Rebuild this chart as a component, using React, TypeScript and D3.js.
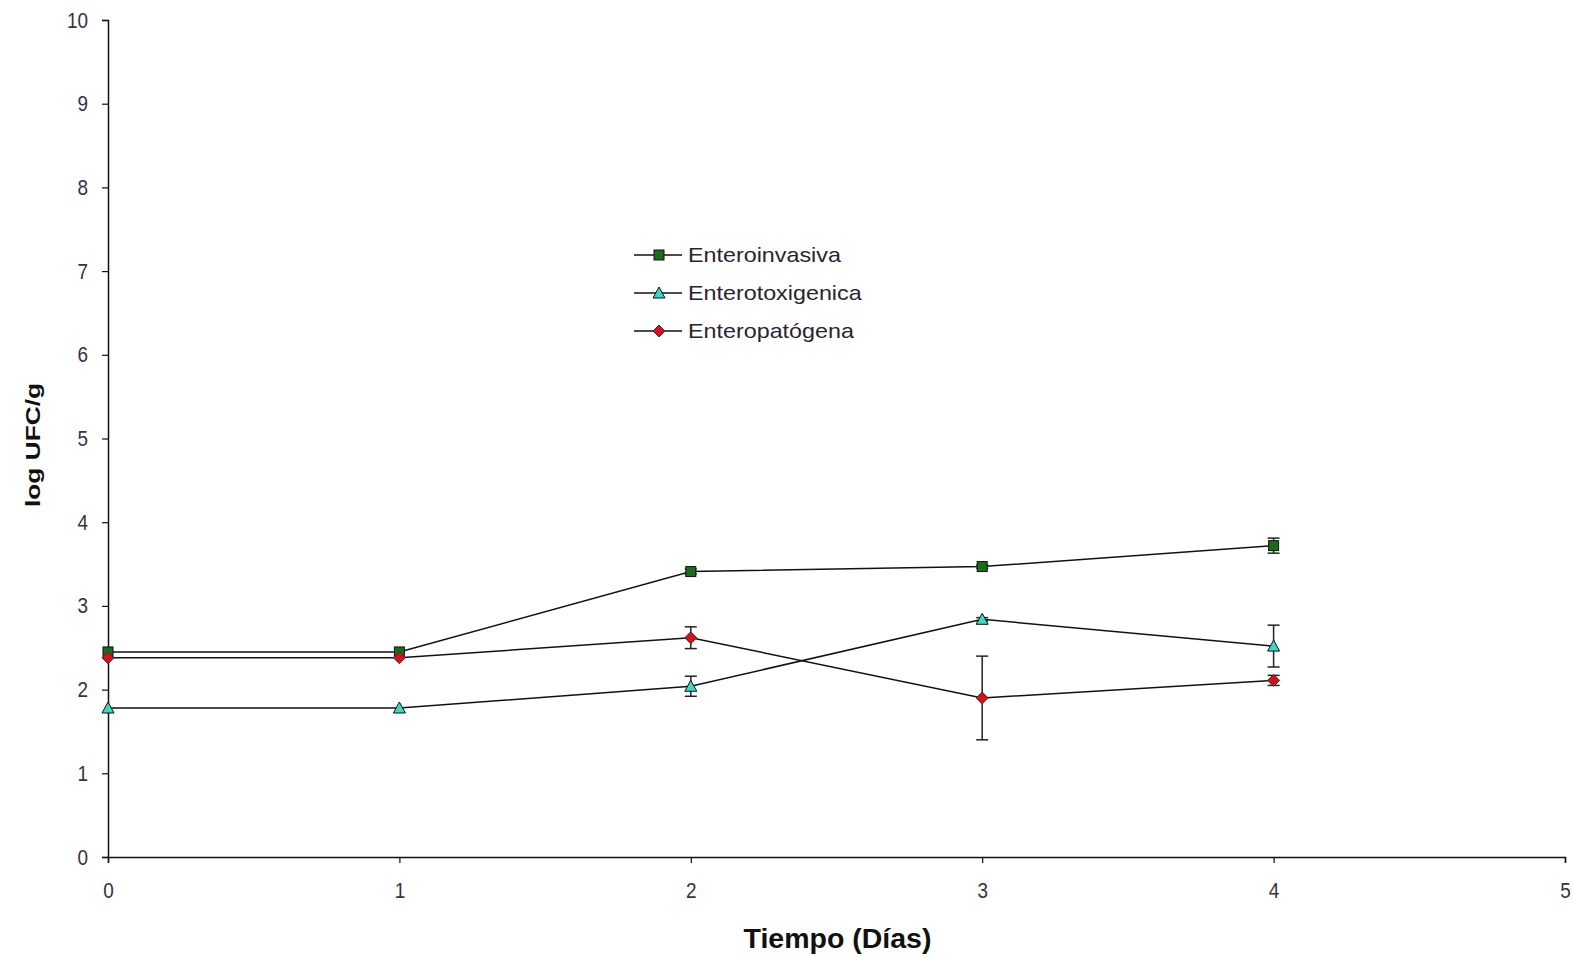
import { useEffect, useRef } from "react";
import * as d3 from "d3";

// Days on the x axis
const DAYS = [0, 1, 2, 3, 4];

// log UFC/g per strain, with the error bar half-width
const INVASIVA = [2.45, 2.45, 3.41, 3.47, 3.72];
const INVASIVA_ERR = [0, 0, 0.03, 0.02, 0.09];
const TOXIGENICA = [1.78, 1.78, 2.04, 2.84, 2.52];
const TOXIGENICA_ERR = [0, 0, 0.12, 0.02, 0.25];
const PATOGENA = [2.38, 2.38, 2.62, 1.9, 2.11];
const PATOGENA_ERR = [0, 0, 0.13, 0.5, 0.06];

const SERIES = [
  { name: "Enteroinvasiva", values: INVASIVA, err: INVASIVA_ERR, shape: "square", fill: "#1c6a1c" },
  { name: "Enterotoxigenica", values: TOXIGENICA, err: TOXIGENICA_ERR, shape: "triangle", fill: "#3fd6c4" },
  { name: "Enteropatógena", values: PATOGENA, err: PATOGENA_ERR, shape: "diamond", fill: "#d4111e" },
];

const X_TICKS = [0, 1, 2, 3, 4, 5];
const Y_TICKS = [0, 1, 2, 3, 4, 5, 6, 7, 8, 9, 10];

const W = 1573;
const H = 959;
const FONT = "'Liberation Sans', Arial, sans-serif";

function marker(g: any, shape: string, fill: string, x: number, y: number) {
  if (shape === "square") {
    g.append("rect")
      .attr("x", x - 5).attr("y", y - 5)
      .attr("width", 10).attr("height", 10)
      .attr("fill", fill).attr("stroke", "#111").attr("stroke-width", 1);
  } else if (shape === "triangle") {
    g.append("path")
      .attr("d", `M${x},${y - 6}L${x + 6},${y + 5}L${x - 6},${y + 5}Z`)
      .attr("fill", fill).attr("stroke", "#111").attr("stroke-width", 1);
  } else {
    g.append("path")
      .attr("d", `M${x},${y - 6}L${x + 6},${y}L${x},${y + 6}L${x - 6},${y}Z`)
      .attr("fill", fill).attr("stroke", "#333").attr("stroke-width", 1);
  }
}

export default function App() {
  const svgRef = useRef<SVGSVGElement>(null);

  useEffect(() => {
    const svg = d3.select(svgRef.current);
    svg.selectAll("*").remove();

    const margin = { top: 20, left: 108 };
    const innerW = 1565 - margin.left;
    const innerH = 857 - margin.top;

    const g = svg.append("g")
      .attr("transform", `translate(${margin.left},${margin.top})`);

    const x = d3.scaleLinear().domain([0, 5]).range([0, innerW]);
    const y = d3.scaleLinear().domain([0, 10]).range([innerH, 0]);

    // axes
    const yAxis = g.append("g")
      .call(d3.axisLeft(y).tickValues(Y_TICKS).tickSize(6).tickPadding(14).tickFormat(d3.format("d")));
    const xAxis = g.append("g")
      .attr("transform", `translate(0,${innerH})`)
      .call(d3.axisBottom(x).tickValues(X_TICKS).tickSize(6).tickPadding(19).tickFormat(d3.format("d")));
    [yAxis, xAxis].forEach((a) => {
      a.select(".domain").attr("stroke", "#111").attr("stroke-width", 1.5);
      a.selectAll(".tick line").attr("stroke", "#111").attr("stroke-width", 1.2);
      a.selectAll(".tick text")
        .attr("fill", "#3a3042")
        .attr("font-family", FONT)
        .attr("font-size", 22);
    });
    // the original digits are narrow and tall
    yAxis.selectAll(".tick text")
      .attr("x", 0)
      .attr("transform", "translate(-20,0) scale(0.86,1)");
    xAxis.selectAll(".tick text")
      .attr("transform", "scale(0.86,1)");

    // axis titles
    svg.append("text")
      .attr("x", (margin.left + 1565) / 2 + 1).attr("y", 948)
      .attr("text-anchor", "middle")
      .attr("font-family", FONT)
      .attr("font-weight", "bold").attr("font-size", 28.5)
      .attr("fill", "#111")
      .text("Tiempo (Días)");
    svg.append("text")
      .attr("transform", "translate(40,445) rotate(-90)")
      .attr("text-anchor", "middle")
      .attr("font-family", FONT)
      .attr("font-weight", "bold").attr("font-size", 20)
      .attr("textLength", 124)
      .attr("lengthAdjust", "spacingAndGlyphs")
      .attr("fill", "#111")
      .text("log UFC/g");

    const line = d3.line<number>()
      .x((_, i) => x(DAYS[i]))
      .y((d) => y(d));

    // lines first, then error bars and markers
    SERIES.forEach((s) => {
      g.append("path")
        .datum(s.values)
        .attr("d", line)
        .attr("fill", "none")
        .attr("stroke", "#111")
        .attr("stroke-width", 1.5);
    });

    SERIES.forEach((s) => {
      s.values.forEach((v, i) => {
        const e = s.err[i];
        if (e <= 0) return;
        const cx = x(DAYS[i]);
        g.append("line")
          .attr("x1", cx).attr("x2", cx)
          .attr("y1", y(v + e)).attr("y2", y(v - e))
          .attr("stroke", "#222").attr("stroke-width", 1.5);
        [v + e, v - e].forEach((c) => {
          g.append("line")
            .attr("x1", cx - 6).attr("x2", cx + 6)
            .attr("y1", y(c)).attr("y2", y(c))
            .attr("stroke", "#222").attr("stroke-width", 1.5);
        });
      });
    });

    SERIES.forEach((s) => {
      s.values.forEach((v, i) => marker(g, s.shape, s.fill, x(DAYS[i]), y(v)));
    });

    // legend
    const legend = svg.append("g").attr("transform", "translate(634,255)");
    SERIES.forEach((s, i) => {
      const row = legend.append("g").attr("transform", `translate(0,${i * 38})`);
      row.append("line")
        .attr("x1", 0).attr("x2", 48).attr("y1", 0).attr("y2", 0)
        .attr("stroke", "#111").attr("stroke-width", 1.5);
      marker(row, s.shape, s.fill, 25, 0);
      const t = row.append("text")
        .attr("x", 54).attr("y", 7)
        .attr("font-family", FONT)
        .attr("font-size", 21)
        .attr("fill", "#2a2430")
        .text(s.name);
      // the original legend text runs a little wide
      const len = (t.node() as SVGTextElement).getComputedTextLength();
      t.attr("textLength", len * 1.11).attr("lengthAdjust", "spacingAndGlyphs");
    });
  }, []);

  return (
    <svg
      ref={svgRef}
      width={W}
      height={H}
      style={{ position: "absolute", left: 0, top: 0, background: "#fff" }}
    />
  );
}
